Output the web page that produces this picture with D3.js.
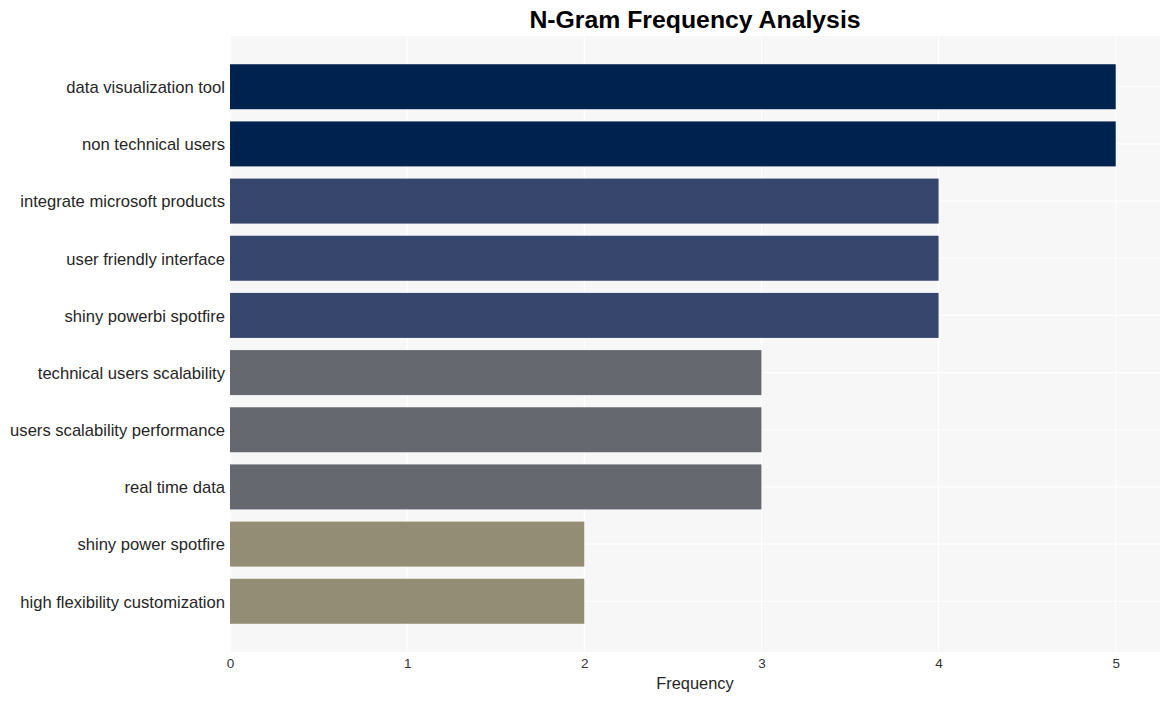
<!DOCTYPE html>
<html>
<head>
<meta charset="utf-8">
<script src="https://cdn.jsdelivr.net/npm/d3@7/dist/d3.min.js"></script>
<style>
  html, body { margin: 0; padding: 0; background: #ffffff; }
  svg { display: block; font-family: "Liberation Sans", Arial, sans-serif; }
</style>
</head>
<body>
<svg id="chart" width="1170" height="701"></svg>
<script>
const categories = [
  "data visualization tool",
  "non technical users",
  "integrate microsoft products",
  "user friendly interface",
  "shiny powerbi spotfire",
  "technical users scalability",
  "users scalability performance",
  "real time data",
  "shiny power spotfire",
  "high flexibility customization"
];
const frequencies = [5, 5, 4, 4, 4, 3, 3, 3, 2, 2];
const xTicks = [0, 1, 2, 3, 4, 5];
const colorLevels = [2, 3, 4, 5];
const colorValues = ["#948D76", "#666870", "#36466D", "#00224E"];
const titleText = "N-Gram Frequency Analysis";
const xTitle = "Frequency";

const svg = d3.select("#chart");
const mLeft = 230, mRight = 1160, mTop = 36, mBottom = 652;

const x = d3.scaleLinear().domain([0, 5.25]).range([mLeft, mRight]);
const y = d3.scaleBand().domain(categories).range([mTop, mBottom])
  .paddingInner(0.213).paddingOuter(0.494);
const color = d3.scaleOrdinal().domain(colorLevels).range(colorValues);

// panel background
svg.append("rect")
  .attr("x", mLeft).attr("y", mTop)
  .attr("width", mRight - mLeft).attr("height", mBottom - mTop)
  .attr("fill", "#F7F7F7");

// grid lines
svg.append("g").selectAll("line").data(xTicks).join("line")
  .attr("x1", d => x(d)).attr("x2", d => x(d))
  .attr("y1", mTop).attr("y2", mBottom)
  .attr("stroke", "#ffffff").attr("stroke-width", 1.2);
svg.append("g").selectAll("line").data(categories).join("line")
  .attr("x1", mLeft).attr("x2", mRight)
  .attr("y1", d => y(d) + y.bandwidth() / 2).attr("y2", d => y(d) + y.bandwidth() / 2)
  .attr("stroke", "#ffffff").attr("stroke-width", 1.2);

// bars
svg.append("g").selectAll("rect").data(categories).join("rect")
  .attr("x", x(0))
  .attr("y", d => y(d))
  .attr("width", (d, i) => x(frequencies[i]) - x(0))
  .attr("height", y.bandwidth())
  .attr("fill", (d, i) => color(frequencies[i]));

// x axis
const xAxis = svg.append("g")
  .attr("transform", `translate(0,${mBottom})`)
  .call(d3.axisBottom(x).tickValues(xTicks).tickSize(0).tickPadding(6).tickFormat(d3.format("d")));
xAxis.select(".domain").remove();
xAxis.selectAll("text").attr("font-size", 13.5).attr("fill", "#333333")
  .attr("font-family", "Liberation Sans, Arial, sans-serif");

// y axis
const yAxis = svg.append("g")
  .attr("transform", `translate(${mLeft},0)`)
  .call(d3.axisLeft(y).tickSize(0).tickPadding(5));
yAxis.select(".domain").remove();
yAxis.selectAll("text").attr("font-size", 16.6).attr("fill", "#262626")
  .attr("dy", "0.38em")
  .attr("font-family", "Liberation Sans, Arial, sans-serif");

// axis title
svg.append("text")
  .attr("x", (mLeft + mRight) / 2).attr("y", 689)
  .attr("text-anchor", "middle")
  .attr("font-size", 16.4).attr("fill", "#262626")
  .text(xTitle);

// title
svg.append("text")
  .attr("x", (mLeft + mRight) / 2).attr("y", 28)
  .attr("text-anchor", "middle")
  .attr("font-size", 24.8).attr("font-weight", "bold").attr("fill", "#000000")
  .text(titleText);
</script>
</body>
</html>
